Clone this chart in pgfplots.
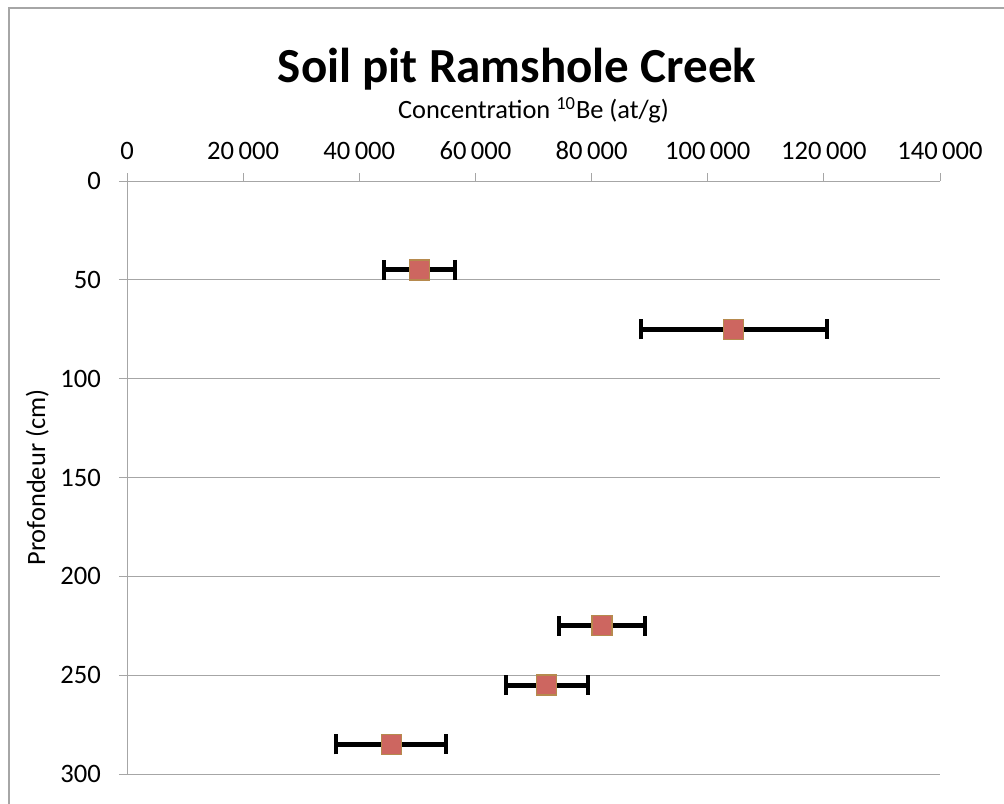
\documentclass[border=0pt]{standalone}
\usepackage{fontspec}
\setmainfont{Carlito}
\usepackage{pgfplots}
\pgfplotsset{compat=1.18}

\definecolor{markfill}{HTML}{CD6660}
\definecolor{markedge}{HTML}{B68A4E}
\definecolor{axgray}{HTML}{A6A6A6}

\begin{document}
\begin{tikzpicture}
  \useasboundingbox (0,0) rectangle (502pt,-401.5pt);
  % chart area border
  \draw[color=axgray, line width=0.6pt] (4.5pt,-420pt) -- (4.5pt,-4pt) -- (520pt,-4pt);
  \node[font=\fontsize{24.5}{28}\selectfont\bfseries, anchor=base] at (258.5pt,-41pt) {Soil pit Ramshole Creek};
  \begin{axis}[
      at={(63.5pt,-90.5pt)}, anchor=north west,
      scale only axis, width=406.5pt, height=296.5pt,
      xmin=0, xmax=140000, ymin=0, ymax=300,
      y dir=reverse,
      axis x line*=top, axis y line*=left,
      axis line style={color=axgray, line width=0.5pt},
      scaled x ticks=false,
      xtick={0,20000,40000,60000,80000,100000,120000,140000},
      xticklabels={0,20\,000,40\,000,60\,000,80\,000,100\,000,120\,000,140\,000},
      ytick={0,50,100,150,200,250,300},
      yticklabels={0,50,100,150,200,250,300},
      tick align=outside, major tick length=4pt,
      tick style={color=axgray, line width=0.5pt},
      ymajorgrids, grid style={color=axgray, line width=0.5pt},
      xticklabel pos=upper,
      ticklabel style={font=\fontsize{13.3}{15}\selectfont},
      xticklabel style={yshift=3pt},
      yticklabel style={xshift=-5.5pt},
      xlabel={Concentration \textsuperscript{10}Be (at/g)},
      xlabel style={font=\fontsize{13.2}{15}\selectfont, yshift=2.5pt},
      ylabel={Profondeur (cm)},
      ylabel style={font=\fontsize{13.2}{15}\selectfont, yshift=-1pt},
      clip=false,
    ]
    \addplot[only marks, mark=square*, mark size=5pt,
      mark options={fill=markfill, draw=markedge, line width=0.6pt},
      error bars/.cd, x dir=both, x explicit,
      error bar style={line width=2.5pt, black},
      error mark options={rotate=90, mark size=5pt, line width=2pt, black}]
      coordinates {
        (50300,45) +- (6100,0)
        (104500,75) +- (16000,0)
        (81800,225) +- (7400,0)
        (72300,255) +- (7000,0)
        (45500,285) +- (9500,0)
      };
  \end{axis}
\end{tikzpicture}
\end{document}
